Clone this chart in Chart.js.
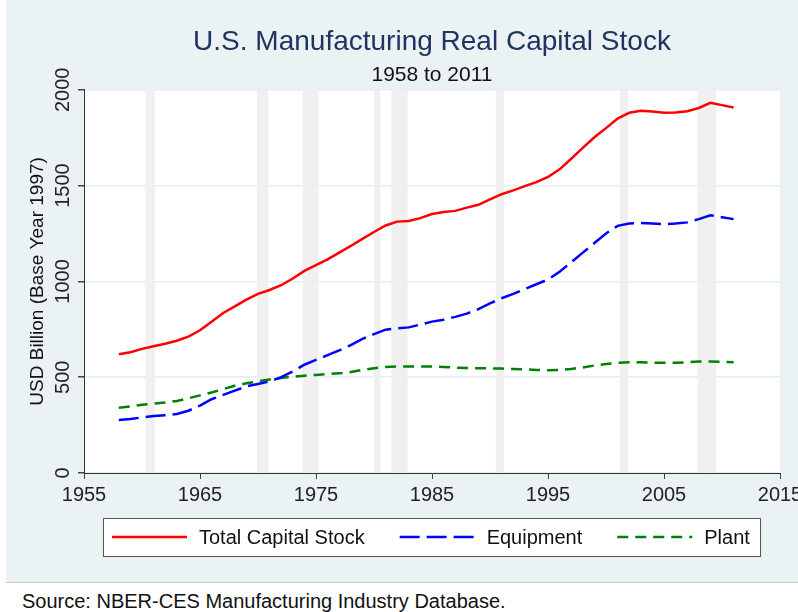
<!DOCTYPE html>
<html>
<head>
<meta charset="utf-8">
<script src="https://cdn.jsdelivr.net/npm/chart.js@4.4.1/dist/chart.umd.min.js"></script>
<style>
  body { margin: 0; background: #fff; font-family: 'Liberation Sans', Arial, sans-serif; }
  #wrap { position: absolute; left: 6px; top: 0; width: 792px; height: 582px; border-bottom: 1px solid #c9cdce; }
  #source { position: absolute; left: 22px; top: 589px; font-size: 20px; line-height: 24px; color: #111; }
</style>
</head>
<body>
<div id="wrap"><canvas id="capChart" width="792" height="582"></canvas></div>
<div id="source">Source: NBER-CES Manufacturing Industry Database.</div>
<script>
const years = [1958, 1959, 1960, 1961, 1962, 1963, 1964, 1965, 1966, 1967,
  1968, 1969, 1970, 1971, 1972, 1973, 1974, 1975, 1976, 1977,
  1978, 1979, 1980, 1981, 1982, 1983, 1984, 1985, 1986, 1987,
  1988, 1989, 1990, 1991, 1992, 1993, 1994, 1995, 1996, 1997,
  1998, 1999, 2000, 2001, 2002, 2003, 2004, 2005, 2006, 2007,
  2008, 2009, 2010, 2011];

const totalStock = [620, 630, 648, 662, 675, 690, 712, 745, 790, 835,
  870, 905, 935, 955, 980, 1015, 1055, 1085, 1115, 1150,
  1185, 1222, 1258, 1292, 1312, 1315, 1330, 1352, 1362, 1368,
  1385, 1400, 1428, 1455, 1475, 1497, 1518, 1545, 1585, 1640,
  1697, 1752, 1800, 1850, 1880, 1890, 1887, 1880, 1882, 1888,
  1905, 1932, 1920, 1908];

const equipment = [277, 282, 290, 297, 302, 308, 325, 352, 385, 408,
  430, 452, 465, 478, 500, 530, 565, 590, 615, 640,
  668, 700, 725, 748, 755, 760, 775, 790, 800, 815,
  832, 855, 885, 912, 935, 960, 985, 1010, 1050, 1100,
  1150, 1200, 1250, 1290, 1302, 1305, 1302, 1298, 1302, 1308,
  1325, 1345, 1335, 1325];

const plant = [341, 348, 356, 362, 368, 376, 390, 405, 420, 438,
  455, 468, 478, 488, 496, 503, 508, 512, 516, 520,
  527, 538, 547, 553, 556, 556, 556, 556, 553, 550,
  548, 547, 546, 545, 543, 541, 538, 536, 538, 543,
  551, 561, 569, 575, 578, 578, 576, 576, 576, 578,
  582, 582, 580, 578];

// NBER recession periods (start / end, decimal years)
const recessionStart = [1960.3, 1969.9, 1973.85, 1980.0, 1981.5, 1990.5, 2001.2, 2007.9];
const recessionEnd = [1961.1, 1970.9, 1975.2, 1980.55, 1982.9, 1991.2, 2001.9, 2009.5];

const yTicks = [0, 500, 1000, 1500, 2000];

const FONT = "'Liberation Sans', Arial, sans-serif";

const toPoints = (vals) => vals.map((v, i) => ({ x: years[i], y: v }));

// background, recession bands, vertical y labels and the boxed legend
const stataLook = {
  id: 'stataLook',
  beforeDraw(chart) {
    const { ctx, chartArea: a } = chart;
    ctx.save();
    ctx.fillStyle = '#EAF2F3';
    ctx.fillRect(0, 0, chart.width, chart.height);
    ctx.fillStyle = '#ffffff';
    ctx.fillRect(a.left, a.top, a.right - a.left, a.bottom - a.top);
    ctx.restore();
  },
  beforeDatasetsDraw(chart) {
    const { ctx, chartArea: a, scales } = chart;
    ctx.save();
    ctx.fillStyle = '#F0F0F0';
    recessionStart.forEach((s, i) => {
      const x1 = scales.x.getPixelForValue(s);
      const x2 = scales.x.getPixelForValue(recessionEnd[i]);
      ctx.fillRect(x1, a.top, x2 - x1, a.bottom - a.top);
    });
    ctx.restore();
  },
  afterDraw(chart) {
    const { ctx, chartArea: a, scales } = chart;
    ctx.save();
    // y tick labels, rotated like Stata
    ctx.fillStyle = '#222';
    ctx.font = '20px ' + FONT;
    ctx.textAlign = 'center';
    ctx.textBaseline = 'middle';
    yTicks.forEach((t) => {
      const y = scales.y.getPixelForValue(t);
      ctx.save();
      ctx.translate(57, y);
      ctx.rotate(-Math.PI / 2);
      ctx.fillText(String(t), 0, 0);
      ctx.restore();
    });

    // legend box
    const boxL = a.left + 19, boxT = a.bottom + 45, boxW = 657, boxH = 38;
    ctx.fillStyle = '#fff';
    ctx.fillRect(boxL, boxT, boxW, boxH);
    ctx.strokeStyle = '#555';
    ctx.lineWidth = 1;
    ctx.strokeRect(boxL + 0.5, boxT + 0.5, boxW, boxH);

    const midY = boxT + boxH / 2;
    let x = boxL + 9;
    ctx.textAlign = 'left';
    chart.data.datasets.forEach((ds) => {
      ctx.beginPath();
      ctx.strokeStyle = ds.borderColor;
      ctx.lineWidth = ds.borderWidth;
      ctx.setLineDash(ds.borderDash || []);
      ctx.moveTo(x, midY);
      ctx.lineTo(x + 75, midY);
      ctx.stroke();
      ctx.setLineDash([]);
      ctx.fillStyle = '#111';
      ctx.fillText(ds.label, x + 87, midY + 1);
      x += 87 + ctx.measureText(ds.label).width + 35;
    });
    ctx.restore();
  }
};

const ctx = document.getElementById('capChart').getContext('2d');
new Chart(ctx, {
  type: 'line',
  data: {
    datasets: [
      {
        label: 'Total Capital Stock',
        data: toPoints(totalStock),
        borderColor: '#FF0000',
        borderWidth: 2.5,
      },
      {
        label: 'Equipment',
        data: toPoints(equipment),
        borderColor: '#0000FF',
        borderWidth: 2.5,
        borderDash: [20, 7],
      },
      {
        label: 'Plant',
        data: toPoints(plant),
        borderColor: '#008000',
        borderWidth: 2.5,
        borderDash: [11, 7],
      },
    ],
  },
  options: {
    responsive: false,
    animation: false,
    layout: { padding: { top: 0, left: 0, right: 18, bottom: 0 } },
    elements: { point: { radius: 0 }, line: { tension: 0, fill: false } },
    plugins: {
      legend: { display: false },
      tooltip: { enabled: false },
      title: {
        display: true,
        fullSize: false, // centre over the plot region, as Stata does
        text: 'U.S. Manufacturing Real Capital Stock',
        color: '#1f3461',
        font: { family: FONT, size: 28, weight: 'normal' },
        padding: { top: 25, bottom: 0 },
      },
      subtitle: {
        display: true,
        fullSize: false,
        text: '1958 to 2011',
        color: '#111',
        font: { family: FONT, size: 21, weight: 'normal' },
        padding: { top: 4, bottom: 2 },
      },
    },
    scales: {
      x: {
        type: 'linear',
        min: 1955,
        max: 2015,
        ticks: {
          stepSize: 10,
          color: '#222',
          font: { family: FONT, size: 20 },
          padding: 4,
          maxRotation: 0,
          callback: (v) => String(v),
        },
        grid: { drawOnChartArea: false, tickLength: 6, tickColor: '#444', lineWidth: 1 },
        border: { color: '#333', width: 1 },
        afterFit(scale) {
          scale.height = 109;
          scale.paddingLeft = 0;
          scale.paddingRight = 0;
        },
      },
      y: {
        min: 0,
        max: 2000,
        ticks: { stepSize: 500, display: false },
        grid: { color: '#E4EDEF', lineWidth: 1.5, tickLength: 6, tickColor: '#444' },
        border: { color: '#333', width: 1 },
        title: {
          display: true,
          text: 'USD Billion (Base Year 1997)',
          color: '#111',
          font: { family: FONT, size: 19 },
          padding: { top: 20 },
        },
        afterFit(scale) {
          scale.width = 78;
          scale.paddingTop = 0;
          scale.paddingBottom = 0;
        },
      },
    },
  },
  plugins: [stataLook],
});
</script>
</body>
</html>
